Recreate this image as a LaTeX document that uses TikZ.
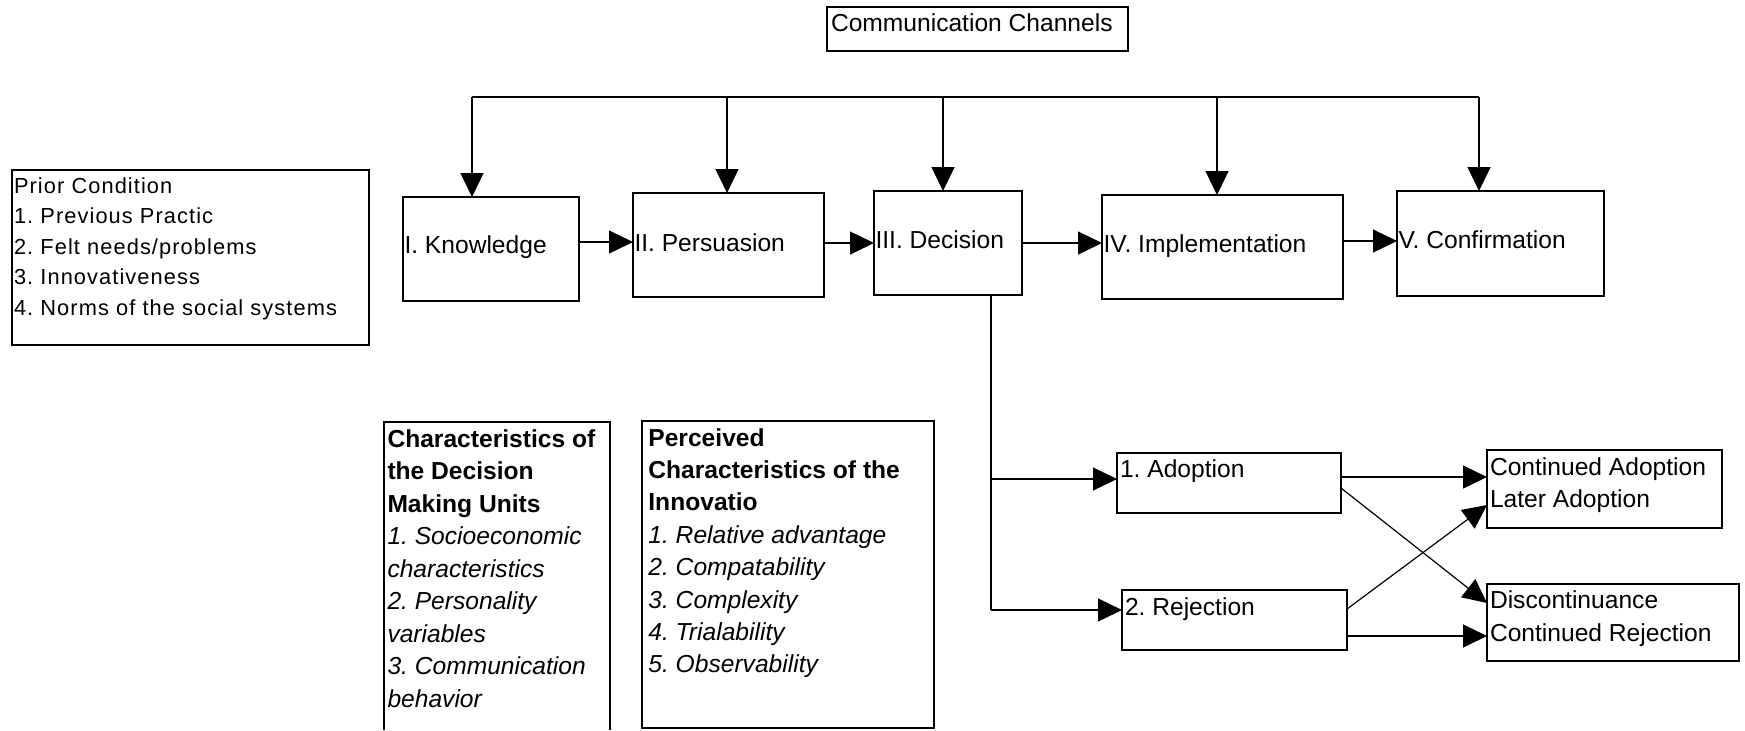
\documentclass[tikz,border=0pt]{standalone}
\usepackage{fontspec}
\setmainfont{Liberation Sans}
\newfontfamily\priorfont{Liberation Sans}[LetterSpace=5]
\usetikzlibrary{arrows.meta}
\newcommand\boxtext[5]{\parbox[c][#2][t]{#1}{\frenchspacing\raggedright\leftskip=#3\relax\rule{0pt}{#4}#5\par}}
\newcommand\lab{\fontsize{12.3pt}{16.4pt}\selectfont}
\begin{document}
\frenchspacing
\begin{tikzpicture}[x=0.5pt,y=-0.5pt,
  box/.style={draw, line width=0.6pt, inner sep=0pt, outer sep=0pt, anchor=north west},
  openbox/.style={inner sep=0pt, outer sep=0pt, anchor=north west},
  ln/.style={line width=0.6pt},
  arr/.style={line width=0.6pt, -{Triangle[length=12pt,width=11.5pt]}}]
\path[use as bounding box] (0,0) rectangle (1745,730);

% top node
\node[box] (comm) at (827,7) {\lab\boxtext{150.5pt}{22pt}{2pt}{12pt}{Communication Channels}};

% stage boxes
\node[box] (know) at (403,197) {\lab\boxtext{88pt}{52pt}{0.75pt}{28pt}{I. Knowledge}};
\node[box] (pers) at (633,193) {\lab\boxtext{95.5pt}{52pt}{0.75pt}{29pt}{II. Persuasion}};
\node[box] (dec)  at (874,191) {\lab\boxtext{74pt}{52pt}{0.75pt}{28.5pt}{III. Decision}};
\node[box] (impl) at (1102,195) {\lab\boxtext{120.5pt}{52pt}{0.75pt}{28.5pt}{IV. Implementation}};
\node[box] (conf) at (1397,191) {\lab\boxtext{103.5pt}{52.5pt}{0.75pt}{28.5pt}{V. Confirmation}};

% prior condition
\node[box] (prior) at (12,170) {\priorfont\fontsize{10.9pt}{15.25pt}\selectfont\boxtext{178.5pt}{87.5pt}{1pt}{11.5pt}{Prior Condition\\1. Previous Practic\\2. Felt needs/problems\\3. Innovativeness\\4. Norms of the social systems}};

% adoption / rejection
\node[box] (ad)  at (1117,453) {\lab\boxtext{112pt}{30pt}{1.5pt}{12pt}{1. Adoption}};
\node[box] (rej) at (1122,590) {\lab\boxtext{112.5pt}{30pt}{1.5pt}{12.5pt}{2. Rejection}};
\node[box] (cont) at (1487,450) {\fontsize{12.3pt}{16.4pt}\selectfont\boxtext{117.5pt}{39pt}{1.5pt}{12.5pt}{Continued Adoption\\Later Adoption}};
\node[box] (disc) at (1487,584) {\fontsize{12.3pt}{16.6pt}\selectfont\boxtext{126pt}{38.5pt}{1.5pt}{12pt}{Discontinuance\\Continued Rejection}};

% characteristics boxes
\node[openbox] (dmu) at (384,422) {\fontsize{12.3pt}{16.25pt}\selectfont\boxtext{113pt}{154pt}{1.75pt}{12.5pt}{\textbf{Characteristics of}\\\textbf{the Decision}\\\textbf{Making Units}\\\textit{1. Socioeconomic}\\\textit{characteristics}\\\textit{2. Personality}\\\textit{variables}\\\textit{3. Communication}\\\textit{behavior}}};
\draw[ln] (dmu.south west) |- (dmu.north east) -- (dmu.south east);
\node[box] (pci) at (642,421) {\fontsize{12.3pt}{16.2pt}\selectfont\boxtext{146pt}{153.5pt}{3.2pt}{12.5pt}{\textbf{Perceived}\\\textbf{Characteristics of the}\\\textbf{Innovatio}\\\textit{1. Relative advantage}\\\textit{2. Compatability}\\\textit{3. Complexity}\\\textit{4. Trialability}\\\textit{5. Observability}}};

% communication channel bar
\coordinate (b1) at (472,97);
\coordinate (b2) at (727,97);
\coordinate (b3) at (943,97);
\coordinate (b4) at (1217,97);
\coordinate (b5) at (1479,97);
\draw[ln] (b1) -- (b5);
\draw[arr] (b1) -- (b1 |- know.north);
\draw[arr] (b2) -- (b2 |- pers.north);
\draw[arr] (b3) -- (b3 |- dec.north);
\draw[arr] (b4) -- (b4 |- impl.north);
\draw[arr] (b5) -- (b5 |- conf.north);

% stage sequence
\draw[arr] (know.east |- 0,242) -- (pers.west |- 0,242);
\draw[arr] (pers.east |- 0,243) -- (dec.west |- 0,243);
\draw[arr] (dec.east |- 0,243) -- (impl.west |- 0,243);
\draw[arr] (impl.east |- 0,241) -- (conf.west |- 0,241);

% decision branches
\coordinate (da) at (991,479);
\coordinate (dr) at (991,610);
\draw[ln] (991,0 |- dec.south) -- (dr);
\draw[arr] (da) -- (ad.west |- da);
\draw[arr] (dr) -- (rej.west |- dr);

% outcomes
\draw[arr] (ad.east |- 0,477) -- (cont.west |- 0,477);
\draw[arr] (ad.east |- 0,488) -- (disc.west |- 0,603);
\draw[arr] (rej.east |- 0,609) -- (cont.west |- 0,505);
\draw[arr] (rej.east |- 0,636) -- (disc.west |- 0,636);
\end{tikzpicture}
\end{document}
